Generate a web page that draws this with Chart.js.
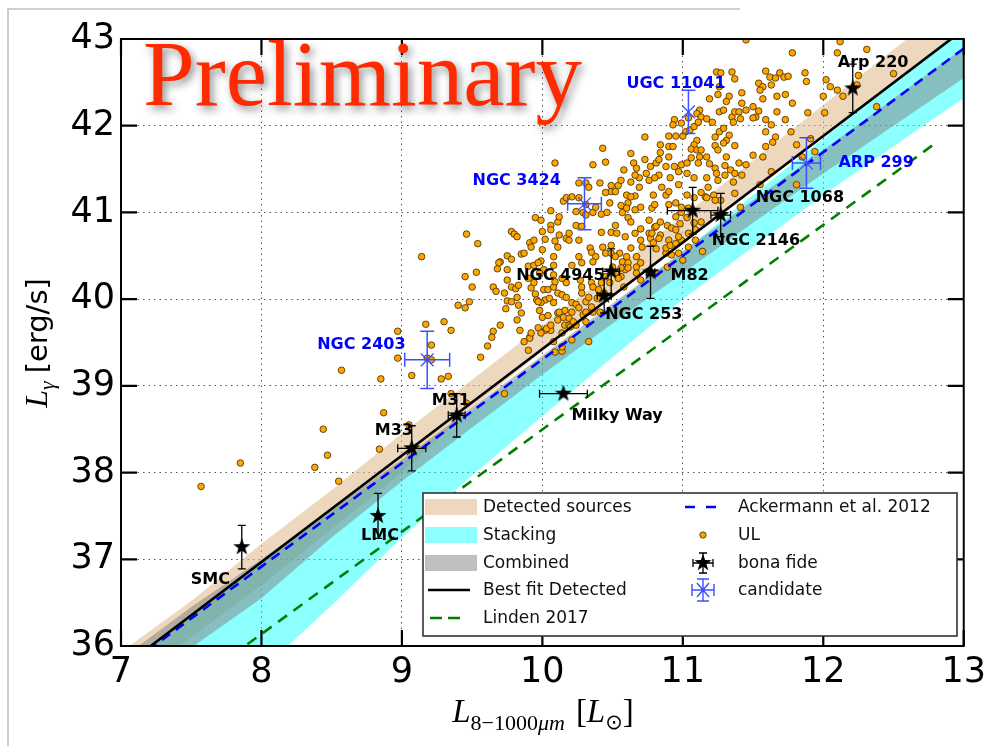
<!DOCTYPE html>
<html><head><meta charset="utf-8">
<script src="https://cdn.jsdelivr.net/npm/chart.js@4.4.1/dist/chart.umd.min.js"></script>
<style>html,body{margin:0;padding:0;background:#fff;}canvas{display:block}</style>
</head><body>
<canvas id="c" width="992" height="746"></canvas>
<script>
// ---------------- DATA ----------------
const xTicks = [7, 8, 9, 10, 11, 12, 13];
const yTicks = [36, 37, 38, 39, 40, 41, 42, 43];

const bandX      = [7, 7.5, 8, 8.5, 9, 9.5, 10, 10.5, 11, 11.5, 12, 12.5, 13];
const detUpper   = [35.93, 36.52, 37.18, 37.80, 38.45, 39.07, 39.70, 40.32, 40.96, 41.60, 42.24, 42.88, 43.50];
const detLower   = [35.50, 36.10, 36.70, 37.35, 38.00, 38.75, 39.40, 40.02, 40.64, 41.25, 41.86, 42.48, 43.10];
const stackUpper = [35.75, 36.35, 36.95, 37.55, 38.12, 38.72, 39.30, 39.92, 40.55, 41.20, 41.85, 42.50, 43.15];
const stackLower = [34.20, 34.97, 35.72, 36.47, 37.25, 37.97, 38.65, 39.33, 40.00, 40.60, 41.20, 41.76, 42.32];
const combUpper  = [35.85, 36.45, 37.00, 37.58, 38.15, 38.75, 39.35, 39.95, 40.55, 41.14, 41.72, 42.31, 42.90];
const combLower  = [35.35, 35.98, 36.55, 37.25, 37.90, 38.52, 39.13, 39.72, 40.30, 40.88, 41.45, 42.00, 42.55];

const fitX = [7, 13],     fitY = [35.74, 43.11];
const ackX = [7, 13],     ackY = [35.72, 42.89];
const lindenX = [7.9, 12.8], lindenY = [36.02, 41.80];

const bonaName = ['SMC','LMC','M33','M31','Milky Way','NGC 253','NGC 4945','M82','NGC 1068','NGC 2146','Arp 220'];
const bonaX    = [7.86, 8.83, 9.07, 9.39, 10.15, 10.44, 10.49, 10.77, 11.07, 11.27, 12.21];
const bonaY    = [37.14, 37.50, 38.28, 38.66, 38.91, 40.04, 40.32, 40.31, 41.02, 40.97, 42.43];
const bonaXErr = [0, 0, 0.10, 0.06, 0.17, 0.05, 0.06, 0.03, 0.18, 0.07, 0];
const bonaYErr = [0.25, 0.26, 0.26, 0.25, 0, 0.20, 0.26, 0.30, 0.27, 0.25, 0.28];
const bonaLabelOffset = [[-51,33],[-17,20],[-37,-17],[-25,-14],[8,22],[1,19],[-95,4],[20,4],[63,-13],[-9,26],[-15,-26]];

const candName = ['NGC 2403','NGC 3424','UGC 11041','ARP 299'];
const candX    = [9.18, 10.30, 11.04, 11.88];
const candY    = [39.30, 41.10, 42.16, 41.57];
const candXErr = [0.16, 0.12, 0, 0.10];
const candYErr = [0.33, 0.30, 0.25, 0.29];
const candLabelOffset = [[-110,-15],[-112,-23],[-62,-28],[32,0]];

const ulX = [
7.57,7.85,8.38,8.47,8.55,8.44,8.84,8.87,9.05,8.57,8.85,9.07,9.28,9.33,9.35,9.46,8.97,8.97,9.21,9.18,9.21,9.14,9.17,9.30,9.35,9.46,9.54,9.45,9.53,9.50,9.40,9.45,9.48,9.56,9.61,9.65,9.67,9.68,9.70,9.65,9.70,9.73,9.73,
9.75,9.74,9.75,9.75,9.75,9.78,9.78,9.80,9.82,9.78,9.81,9.83,9.82,9.82,9.83,9.85,9.84,9.85,9.87,9.90,9.91,9.94,9.92,9.90,9.92,9.94,9.94,9.95,9.99,10.00,10.02,10.06,10.00,9.99,10.01,9.98,9.95,9.96,10.01,10.04,10.02,10.05,10.06,10.08,10.09,10.08,10.08,10.11,10.12,10.12,10.11,10.08,10.09,10.11,10.14,10.17,10.17,10.14,10.15,9.99,9.98,10.00,10.04,10.08,10.11,10.15,10.16,10.19,10.02,10.06,9.91,10.16,9.78,9.87,9.91,9.90,9.97,10.03,10.12,10.19,10.20,10.24,10.21,10.24,10.29,10.36,10.41,10.08,10.09,10.14,10.33,9.69,9.64,9.97,10.17,10.19,10.06,9.92,9.97,9.99,10.06,10.14,10.14,10.21,10.11,10.21,10.26,10.31,10.33,10.28,10.35,10.40,10.42,10.45,10.48,10.50,10.52,10.56,10.59,10.81,10.89,10.97,11.00,11.14,10.99,11.04,11.09,11.04,10.88,10.92,10.80,10.76,10.84,10.66,10.70,10.71,10.63,10.67,10.55,10.57,10.61,10.31,
10.21,10.24,10.29,10.31,10.36,10.24,10.28,10.19,10.26,10.42,10.46,10.48,10.56,10.61,10.49,10.60,10.66,10.79,10.88,10.90,11.03,11.16,11.22,10.57,10.60,10.66,10.70,10.78,10.80,10.61,10.63,10.76,10.81,10.84,10.89,10.70,10.77,10.78,10.52,10.49,10.53,10.59,10.42,10.83,10.90,10.97,10.92,10.95,10.98,10.95,10.99,11.03,10.90,10.95,11.13,11.08,11.09,10.88,10.91,10.95,10.79,10.81,10.43,10.49,10.45,10.49,10.52,10.34,10.35,10.38,10.36,10.26,10.28,10.21,10.60,10.56,10.61,10.67,10.70,10.67,10.70,10.54,10.58,10.27,10.28,10.36,10.39,10.35,10.31,10.22,10.44,
11.24,11.27,11.35,11.37,11.26,11.33,11.31,11.19,11.12,11.10,11.13,11.17,11.21,11.26,11.29,11.35,11.37,11.36,10.94,10.93,11.02,11.05,11.08,10.73,10.90,10.95,11.00,10.84,10.90,10.93,11.10,11.08,11.06,11.10,11.13,11.23,11.26,11.29,11.33,11.31,11.23,11.25,11.29,11.37,10.43,10.36,10.45,10.63,10.65,10.73,10.67,10.69,10.77,10.81,10.83,10.90,10.88,10.94,10.99,11.03,11.06,11.12,11.17,11.19,11.23,11.31,11.30,11.34,10.58,10.74,10.83,10.91,10.97,11.03,11.08,11.17,11.24,11.30,10.26,10.31,10.41,10.49,10.54,10.63,10.69,10.76,10.85,10.97,10.09,10.33,10.99,11.04,11.25,11.11,11.11,10.84,10.80,10.66,10.56,10.63,10.45,10.52,10.26,10.38,10.31,10.17,11.18,11.25,11.27,11.37,10.99,11.04,11.08,11.13,11.17,11.23,11.36,11.40,11.37,
11.45,11.78,12.12,12.31,12.10,12.02,12.05,12.00,12.10,12.14,12.01,12.25,12.24,12.38,12.50,11.59,11.62,11.66,11.54,11.57,11.63,11.55,11.69,11.72,11.75,11.87,11.88,11.67,11.73,11.57,11.78,11.67,11.73,11.89,11.59,11.63,11.59,11.52,11.45,11.42,11.50,11.40,11.41,11.50,11.42,11.54,11.66,11.77,11.59,11.50,11.57,11.45,11.63,11.42,11.55,11.81,11.81,11.91,11.94,11.85,11.64,11.41
];
const ulY = [
37.84,38.11,38.06,38.20,37.90,38.50,38.27,38.69,38.55,39.18,39.08,39.12,39.08,39.11,38.91,38.80,39.63,39.32,39.47,39.32,39.30,40.49,39.71,39.74,39.64,40.75,40.64,40.26,40.31,40.14,39.93,39.90,39.97,39.33,39.46,40.14,40.09,40.35,40.43,39.63,39.70,40.07,38.91,
39.98,39.89,40.22,40.34,40.50,40.46,40.78,40.75,40.72,40.14,40.12,40.16,40.02,39.76,39.93,39.84,39.64,40.52,40.53,40.38,40.65,40.68,40.60,40.24,40.13,40.19,40.39,40.94,40.91,40.78,40.69,41.02,40.57,40.44,40.34,40.30,40.06,39.99,40.11,40.11,39.99,40.01,40.85,40.49,40.67,40.39,40.28,40.89,40.95,40.74,40.60,40.14,40.20,40.07,40.05,40.02,40.19,40.24,41.13,39.96,39.87,39.79,39.81,39.96,39.84,39.79,39.70,39.70,39.64,39.64,39.56,39.87,39.97,39.51,39.55,39.41,39.97,39.66,39.85,39.78,39.68,39.70,39.96,39.94,39.82,39.85,39.85,39.51,39.39,39.40,39.51,40.42,39.56,40.42,40.70,40.68,40.80,39.61,39.67,39.61,39.70,39.61,39.45,39.53,39.76,39.85,39.90,39.97,40.02,40.07,40.19,40.11,40.19,40.26,40.19,40.37,40.30,40.26,40.34,40.30,40.37,40.53,40.45,40.55,40.68,40.76,40.68,40.60,40.53,40.51,40.83,40.76,40.74,40.76,40.68,40.60,40.59,40.49,40.53,40.43,40.42,39.74,
41.18,41.01,41.00,40.97,41.00,40.85,40.84,40.76,40.68,40.98,41.00,41.11,41.08,41.11,41.24,41.20,41.19,41.20,41.20,41.24,41.20,41.18,41.20,41.00,41.05,41.03,41.06,41.05,41.09,40.94,40.89,40.91,40.84,40.89,40.85,40.81,40.70,40.76,40.85,40.77,40.76,40.72,40.77,40.70,40.68,40.72,40.82,40.80,40.87,40.95,41.00,40.94,41.09,41.11,40.89,40.88,40.80,40.59,40.62,40.64,40.65,40.58,40.60,40.62,40.53,40.53,40.49,40.59,40.54,40.49,40.43,40.49,40.42,40.39,40.49,40.36,40.36,40.37,40.42,40.30,40.22,40.24,40.14,40.22,40.14,40.14,40.01,39.91,39.85,39.74,40.07,
42.62,42.61,42.62,42.54,42.45,42.34,42.28,42.31,42.18,42.14,42.10,42.08,42.04,42.16,42.18,42.10,42.16,42.04,42.07,42.01,41.93,41.95,41.99,41.87,41.88,41.88,41.88,41.78,41.76,41.76,41.83,41.78,41.73,41.72,41.72,41.87,41.93,41.97,41.89,41.83,41.77,41.72,41.80,41.77,41.74,41.55,41.58,41.68,41.57,41.61,41.51,41.40,41.53,41.57,41.61,41.64,41.53,41.53,41.55,41.57,41.63,41.64,41.64,41.56,41.51,41.64,41.54,41.49,41.49,41.45,41.43,41.40,41.47,41.45,41.40,41.40,41.45,41.43,41.34,41.34,41.34,41.31,41.31,41.35,41.29,41.37,41.29,41.32,41.57,41.29,42.03,42.09,42.36,42.04,41.57,41.69,41.40,41.43,41.37,41.18,41.23,41.24,41.17,41.06,41.09,41.17,41.29,41.37,41.14,41.22,41.06,41.05,41.17,41.23,41.17,41.14,41.35,41.57,41.45,
42.99,42.84,42.97,42.88,42.84,42.53,42.45,42.34,42.41,42.34,42.15,42.58,42.47,42.22,42.60,42.63,42.56,42.55,42.49,42.45,42.47,42.41,42.61,42.56,42.57,42.61,42.51,42.34,42.36,42.31,42.26,42.16,42.07,42.15,42.07,42.01,41.93,42.10,42.18,42.26,42.22,42.16,42.08,42.09,42.38,42.17,41.87,41.93,41.76,41.66,41.64,41.55,41.47,41.43,41.32,41.32,41.78,41.85,41.70,41.64,41.81,41.06
];

// ---------------- STYLE ----------------
const TAN = 'rgba(222,184,135,0.55)';
const CYAN = 'rgba(0,255,255,0.45)';
const GRAY = 'rgba(128,128,128,0.5)';
const CAND = 'rgb(60,80,255)';
const SANS = '"DejaVu Sans"';
const SERIF = '"Liberation Serif"';

function makeStar(size, color) {
  const c = document.createElement('canvas'); c.width = c.height = size;
  const g = c.getContext('2d'); const R = size / 2, r = R * 0.4;
  g.beginPath();
  for (let i = 0; i < 10; i++) {
    const a = -Math.PI / 2 + i * Math.PI / 5, rad = i % 2 ? r : R;
    g.lineTo(R + rad * Math.cos(a), R + rad * Math.sin(a));
  }
  g.closePath(); g.fillStyle = color; g.fill();
  return c;
}
const starImg = makeStar(18, '#000');
const pts = (xs, ys) => xs.map((x, i) => ({x, y: ys[i]}));

const datasets = [
  {label:'bona fide', data: pts(bonaX, bonaY), pointStyle: starImg, pointRadius: 9, order: 0},
  {label:'candidate', data: pts(candX, candY), pointStyle: 'crossRot', pointRadius: 9, borderColor: CAND, backgroundColor: CAND, borderWidth: 1.3, order: 0},
  {label:'UL', data: pts(ulX, ulY), pointStyle: 'circle', pointRadius: 3.3, backgroundColor: '#ffa500', borderColor: '#3a2800', borderWidth: 0.8, order: 3},
  {label:'Best fit Detected', type:'line', data: pts(fitX, fitY), borderColor:'#000', borderWidth: 2.6, pointRadius: 0, fill: false, order: 2},
  {label:'Ackermann et al. 2012', type:'line', data: pts(ackX, ackY), borderColor:'#0000ff', borderWidth: 2.6, borderDash:[10,7], pointRadius: 0, fill: false, order: 2},
  {label:'Linden 2017', type:'line', data: pts(lindenX, lindenY), borderColor:'#008000', borderWidth: 2.6, borderDash:[11,8], pointRadius: 0, fill: false, order: 2},
  {label:'combUpper', type:'line', data: pts(bandX, combUpper), borderColor:'transparent', borderWidth: 0, pointRadius: 0, fill: false, order: 4},
  {label:'Combined', type:'line', data: pts(bandX, combLower), borderColor:'transparent', borderWidth: 0, pointRadius: 0, fill: 6, backgroundColor: GRAY, order: 4},
  {label:'stackUpper', type:'line', data: pts(bandX, stackUpper), borderColor:'transparent', borderWidth: 0, pointRadius: 0, fill: false, order: 5},
  {label:'Stacking', type:'line', data: pts(bandX, stackLower), borderColor:'transparent', borderWidth: 0, pointRadius: 0, fill: 8, backgroundColor: CYAN, order: 5},
  {label:'detUpper', type:'line', data: pts(bandX, detUpper), borderColor:'transparent', borderWidth: 0, pointRadius: 0, fill: false, order: 6},
  {label:'Detected sources', type:'line', data: pts(bandX, detLower), borderColor:'transparent', borderWidth: 0, pointRadius: 0, fill: 10, backgroundColor: TAN, order: 6}
];

function errBars(chart, xs, ys, xe, ye, color, lw, cap) {
  const ctx = chart.ctx, sx = chart.scales.x, sy = chart.scales.y;
  ctx.save(); ctx.strokeStyle = color; ctx.lineWidth = lw;
  for (let i = 0; i < xs.length; i++) {
    const px = sx.getPixelForValue(xs[i]), py = sy.getPixelForValue(ys[i]);
    ctx.beginPath();
    if (ye[i] > 0) {
      const a = sy.getPixelForValue(ys[i] + ye[i]), b = sy.getPixelForValue(ys[i] - ye[i]);
      ctx.moveTo(px, a); ctx.lineTo(px, b);
      ctx.moveTo(px - cap, a); ctx.lineTo(px + cap, a);
      ctx.moveTo(px - cap, b); ctx.lineTo(px + cap, b);
    }
    if (xe[i] > 0) {
      const a = sx.getPixelForValue(xs[i] - xe[i]), b = sx.getPixelForValue(xs[i] + xe[i]);
      ctx.moveTo(a, py); ctx.lineTo(b, py);
      ctx.moveTo(a, py - cap); ctx.lineTo(a, py + cap);
      ctx.moveTo(b, py - cap); ctx.lineTo(b, py + cap);
    }
    ctx.stroke();
  }
  ctx.restore();
}

function drawRich(ctx, segs, x, y, align) {
  let total = 0;
  segs.forEach(s => { ctx.font = s.font; s.w = ctx.measureText(s.t).width; total += s.w + (s.gap || 0); });
  let cx = align === 'center' ? x - total / 2 : x;
  segs.forEach(s => { ctx.font = s.font; ctx.fillText(s.t, cx, y + (s.dy || 0)); cx += s.w + (s.gap || 0); });
}

const decor = {
  id: 'decor',
  beforeDraw(chart) {
    const ctx = chart.ctx; ctx.save();
    ctx.fillStyle = '#fff'; ctx.fillRect(0, 0, chart.width, chart.height);
    ctx.strokeStyle = '#cfcfcf'; ctx.lineWidth = 2;
    ctx.beginPath(); ctx.moveTo(8, 746); ctx.lineTo(8, 9); ctx.lineTo(740, 9); ctx.stroke();
    ctx.restore();
  },
  beforeDatasetDraw(chart, args) {
    if (args.index === 0) errBars(chart, bonaX, bonaY, bonaXErr, bonaYErr, '#000', 1.3, 4);
    if (args.index === 1) errBars(chart, candX, candY, candXErr, candYErr, CAND, 1.5, 7);
  },
  afterDatasetsDraw(chart) {
    const ctx = chart.ctx, sx = chart.scales.x, sy = chart.scales.y;
    ctx.save(); ctx.font = 'bold 16px ' + SANS; ctx.textBaseline = 'middle'; ctx.textAlign = 'left';
    ctx.fillStyle = '#000';
    bonaName.forEach((n, i) => ctx.fillText(n, sx.getPixelForValue(bonaX[i]) + bonaLabelOffset[i][0], sy.getPixelForValue(bonaY[i]) + bonaLabelOffset[i][1]));
    ctx.fillStyle = '#0000ff';
    candName.forEach((n, i) => ctx.fillText(n, sx.getPixelForValue(candX[i]) + candLabelOffset[i][0], sy.getPixelForValue(candY[i]) + candLabelOffset[i][1]));
    ctx.restore();
  },
  afterDraw(chart) {
    const ctx = chart.ctx, a = chart.chartArea, sx = chart.scales.x, sy = chart.scales.y;
    ctx.save();
    // inward ticks
    ctx.strokeStyle = '#000'; ctx.lineWidth = 2.2; ctx.beginPath();
    xTicks.forEach(v => { const p = sx.getPixelForValue(v); ctx.moveTo(p, a.bottom); ctx.lineTo(p, a.bottom - 16); ctx.moveTo(p, a.top); ctx.lineTo(p, a.top + 16); });
    yTicks.forEach(v => { const p = sy.getPixelForValue(v); ctx.moveTo(a.left, p); ctx.lineTo(a.left + 16, p); ctx.moveTo(a.right, p); ctx.lineTo(a.right - 16, p); });
    ctx.stroke();
    // frame
    ctx.lineWidth = 2; ctx.strokeRect(a.left, a.top, a.right - a.left, a.bottom - a.top);

    // legend
    const L = 423, T = 493, R = 957, B = 636;
    ctx.fillStyle = '#fff'; ctx.fillRect(L, T, R - L, B - T);
    ctx.strokeStyle = '#333'; ctx.lineWidth = 1.6; ctx.strokeRect(L, T, R - L, B - T);
    const rows = [507, 535, 563, 590, 618];
    [TAN, CYAN, GRAY].forEach((c, i) => { ctx.fillStyle = c; ctx.fillRect(425, rows[i] - 8, 52, 16); });
    ctx.lineWidth = 2.6; ctx.strokeStyle = '#000'; ctx.beginPath(); ctx.moveTo(428, rows[3]); ctx.lineTo(470, rows[3]); ctx.stroke();
    ctx.strokeStyle = '#008000'; ctx.setLineDash([12, 6]); ctx.beginPath(); ctx.moveTo(430, rows[4]); ctx.lineTo(462, rows[4]); ctx.stroke();
    ctx.strokeStyle = '#0000ff'; ctx.setLineDash([10, 11]); ctx.beginPath(); ctx.moveTo(685, rows[0]); ctx.lineTo(716, rows[0]); ctx.stroke();
    ctx.setLineDash([]);
    ctx.fillStyle = '#ffa500'; ctx.strokeStyle = '#3a2800'; ctx.lineWidth = 0.8;
    ctx.beginPath(); ctx.arc(703, rows[1], 3.2, 0, Math.PI * 2); ctx.fill(); ctx.stroke();
    // bona fide handle
    ctx.strokeStyle = '#000'; ctx.lineWidth = 1.3; ctx.beginPath();
    ctx.moveTo(703, rows[2] - 10); ctx.lineTo(703, rows[2] + 10);
    ctx.moveTo(699, rows[2] - 10); ctx.lineTo(707, rows[2] - 10);
    ctx.moveTo(699, rows[2] + 10); ctx.lineTo(707, rows[2] + 10);
    ctx.moveTo(693, rows[2]); ctx.lineTo(713, rows[2]);
    ctx.moveTo(693, rows[2] - 4); ctx.lineTo(693, rows[2] + 4);
    ctx.moveTo(713, rows[2] - 4); ctx.lineTo(713, rows[2] + 4);
    ctx.stroke();
    ctx.drawImage(starImg, 703 - 9, rows[2] - 9);
    // candidate handle
    ctx.strokeStyle = CAND; ctx.lineWidth = 1.4; ctx.beginPath();
    const cy = rows[3];
    ctx.moveTo(703, cy - 11); ctx.lineTo(703, cy + 11);
    ctx.moveTo(697, cy - 11); ctx.lineTo(709, cy - 11);
    ctx.moveTo(697, cy + 11); ctx.lineTo(709, cy + 11);
    ctx.moveTo(692, cy); ctx.lineTo(714, cy);
    ctx.moveTo(692, cy - 6); ctx.lineTo(692, cy + 6);
    ctx.moveTo(714, cy - 6); ctx.lineTo(714, cy + 6);
    ctx.moveTo(697, cy - 7); ctx.lineTo(709, cy + 7);
    ctx.moveTo(697, cy + 7); ctx.lineTo(709, cy - 7);
    ctx.stroke();
    ctx.fillStyle = '#111'; ctx.font = '17px ' + SANS; ctx.textBaseline = 'middle'; ctx.textAlign = 'left';
    ['Detected sources', 'Stacking', 'Combined', 'Best fit Detected', 'Linden 2017'].forEach((t, i) => ctx.fillText(t, 483, rows[i] + 1));
    ['Ackermann et al. 2012', 'UL', 'bona fide', 'candidate'].forEach((t, i) => ctx.fillText(t, 738, rows[i] + 1));

    // axis titles
    ctx.fillStyle = '#000'; ctx.textBaseline = 'alphabetic'; ctx.textAlign = 'left';
    drawRich(ctx, [
      {t: 'L', font: 'italic 33px ' + SERIF},
      {t: '8\u22121000', font: '22px ' + SERIF, dy: 8},
      {t: '\u03bcm', font: 'italic 22px ' + SERIF, dy: 8, gap: 11},
      {t: '[', font: '33px ' + SERIF},
      {t: 'L', font: 'italic 33px ' + SERIF},
      {t: '\u2299', font: '21px "DejaVu Sans"', dy: 7},
      {t: ']', font: '33px ' + SERIF}
    ], 543, 722, 'center');
    ctx.save(); ctx.translate(47, 343); ctx.rotate(-Math.PI / 2);
    drawRich(ctx, [
      {t: 'L', font: 'italic 32px ' + SERIF},
      {t: '\u03b3', font: 'italic 22px ' + SERIF, dy: 7, gap: 8},
      {t: '[erg/s]', font: '29px ' + SANS}
    ], 0, 0, 'center');
    ctx.restore();

    // Preliminary stamp
    ctx.save();
    ctx.font = '93px ' + SERIF; ctx.fillStyle = '#ff2a00';
    ctx.shadowColor = 'rgba(0,0,0,0.45)'; ctx.shadowBlur = 8; ctx.shadowOffsetX = 3; ctx.shadowOffsetY = 4;
    ctx.fillText('Preliminary', 143, 105);
    ctx.restore();
    ctx.restore();
  }
};

new Chart(document.getElementById('c'), {
  type: 'scatter',
  data: { datasets },
  options: {
    responsive: false, animation: false, events: [],
    layout: { padding: { left: 0, top: 39, right: 26, bottom: 0 } },
    scales: {
      x: {
        type: 'linear', min: 7, max: 13,
        afterBuildTicks: s => { s.ticks = xTicks.map(v => ({value: v})); },
        afterFit: s => { s.height = 100; },
        ticks: { autoSkip: false, maxRotation: 0, color: '#000', padding: 6, font: { family: 'DejaVu Sans', size: 35 } },
        grid: { color: '#555', lineWidth: 1, drawTicks: false },
        border: { display: false, dash: [1.5, 4] }
      },
      y: {
        type: 'linear', min: 36, max: 43,
        afterBuildTicks: s => { s.ticks = yTicks.map(v => ({value: v})); },
        afterFit: s => { s.width = 121; },
        ticks: { autoSkip: false, color: '#000', padding: 6, font: { family: 'DejaVu Sans', size: 35 } },
        grid: { color: '#555', lineWidth: 1, drawTicks: false },
        border: { display: false, dash: [1.5, 4] }
      }
    },
    plugins: { legend: { display: false }, tooltip: { enabled: false } }
  },
  plugins: [decor]
});
</script>
</body></html>
